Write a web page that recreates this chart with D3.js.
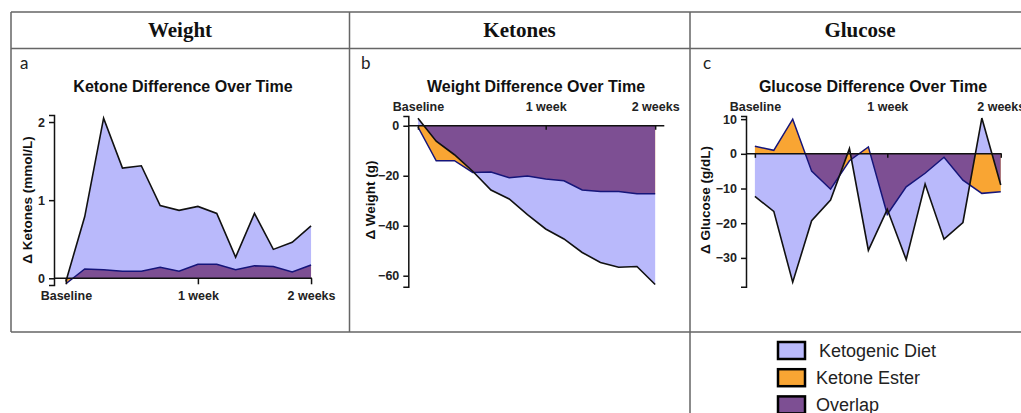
<!DOCTYPE html>
<html>
<head>
<meta charset="utf-8">
<script src="https://cdn.jsdelivr.net/npm/d3@7"></script>
<style>
  body { margin: 0; background: #fff; }
  svg { display: block; }
  text { font-family: "Liberation Sans", Arial, sans-serif; }
</style>
</head>
<body>
<div id="chart"></div>
<script>
// time points (measurement index), ticks shown at baseline / 1 week / 2 weeks
const days = [0, 1, 2, 3, 4, 5, 6, 7, 8, 9, 10, 11, 12, 13];
const tickDays = [0, 7, 13];
const tickLabels = ["Baseline", "1 week", "2 weeks"];

// Δ ketones (mmol/L)
const ketoneKD = [-0.04, 0.79, 2.05, 1.41, 1.44, 0.93, 0.87, 0.92, 0.83, 0.27, 0.83, 0.37, 0.46, 0.67];
const ketoneKE = [-0.07, 0.12, 0.11, 0.09, 0.09, 0.14, 0.09, 0.18, 0.18, 0.11, 0.16, 0.15, 0.08, 0.17];

// Δ weight (g)
const weightKD = [3, -6.2, -11.6, -18.2, -25.7, -29.3, -35.6, -41.3, -45.3, -50.7, -54.7, -56.6, -56.3, -63.5];
const weightKE = [-0.5, -14, -14, -18.7, -18.5, -20.8, -20.1, -21.3, -22, -25.7, -26.3, -26.3, -27.2, -27.2];

// Δ glucose (g/dL)
const glucoseKD = [-12.3, -16.6, -37, -19.3, -13.3, 1.5, -27.8, -16, -30.5, -8.7, -24.6, -19.8, 10.3, -9];
const glucoseKE = [2.2, 1, 10, -5, -10.2, -2, 2, -17.5, -9.5, -5.6, -1, -7.6, -11.4, -10.9];

const headers = ["Weight", "Ketones", "Glucose"];
const legendLabels = ["Ketogenic Diet", "Ketone Ester", "Overlap"];
const legendColors = ["#b9b9fb", "#f9a533", "#7d4f93"];

const colKD = legendColors[0], colKE = legendColors[1], colOv = legendColors[2];

const svg = d3.select('#chart')
  .append('svg')
  .attr('width', 1021)
  .attr('height', 413);

// table grid
svg.append('path')
  .attr('d', 'M11,12H1021 M11,48.5H1021 M11,332H1021 M11,12V332 M349.5,12V332 M690,12V413')
  .attr('fill', 'none')
  .attr('stroke', '#666')
  .attr('stroke-width', 1.5);

svg.selectAll('.hdr')
  .data(headers)
  .join('text')
  .attr('class', 'hdr')
  .attr('x', (d, i) => [180, 519.5, 860][i])
  .attr('y', 30)
  .attr('text-anchor', 'middle')
  .attr('dominant-baseline', 'central')
  .style('font-family', '"Liberation Serif", "Times New Roman", serif')
  .style('font-weight', 'bold')
  .style('font-size', '21px')
  .attr('fill', '#111')
  .text(d => d);

const panels = [
  { id: 'a', kd: ketoneKD, ke: ketoneKE, title: 'Ketone Difference Over Time', ylab: 'Δ Ketones (mmol/L)',
    xd: [-0.63, 13.05], xr: [54, 312], yd: [-0.086, 2.09], yr: [285, 115], yticks: [0, 1, 2],
    top: false, letterX: 20, titleX: 183, ylabX: 27 },
  { id: 'b', kd: weightKD, ke: weightKE, title: 'Weight Difference Over Time', ylab: 'Δ Weight (g)',
    xd: [-0.53, 13.5], xr: [408.3, 664.3], yd: [-64.4, 3.9], yr: [286.7, 116], yticks: [0, -20, -40, -60],
    top: true, letterX: 361, titleX: 536, ylabX: 370 },
  { id: 'c', kd: glucoseKD, ke: glucoseKE, title: 'Glucose Difference Over Time', ylab: 'Δ Glucose (g/dL)',
    xd: [-0.47, 13.05], xr: [746, 1001.7], yd: [-38.3, 10.9], yr: [286.7, 116], yticks: [10, 0, -10, -20, -30],
    top: true, letterX: 703, titleX: 873, ylabX: 705 }
];

panels.forEach(p => {
  const g = svg.append('g');
  const x = d3.scaleLinear().domain(p.xd).range(p.xr);
  const y = d3.scaleLinear().domain(p.yd).range(p.yr);

  const kdArea = d3.area().x((d, i) => x(days[i])).y0(y(0)).y1(d => y(d));
  const line = d3.line().x((d, i) => x(days[i])).y(d => y(d));

  // clip for overlap = ester area inside ketogenic area
  g.append('clipPath').attr('id', 'clip-' + p.id)
    .append('path').attr('d', kdArea(p.kd));

  g.append('path').attr('d', kdArea(p.kd)).attr('fill', colKD);
  g.append('path').attr('d', kdArea(p.ke)).attr('fill', colKE);
  g.append('path').attr('d', kdArea(p.ke)).attr('fill', colOv)
    .attr('clip-path', `url(#clip-${p.id})`);

  g.append('path').attr('d', line(p.ke)).attr('fill', 'none')
    .attr('stroke', '#15157a').attr('stroke-width', 1.5);
  g.append('path').attr('d', line(p.kd)).attr('fill', 'none')
    .attr('stroke', '#111').attr('stroke-width', 1.6);

  // x axis at zero
  const xAxis = (p.top ? d3.axisTop(x) : d3.axisBottom(x))
    .tickValues(tickDays)
    .tickFormat((d, i) => tickLabels[i])
    .tickSizeOuter(0)
    .tickSizeInner(p.top ? -4 : 6)
    .tickPadding(p.top ? 14 : 7);
  const xg = g.append('g')
    .attr('transform', `translate(0,${y(0)})`)
    .call(xAxis);
  xg.select('.domain').attr('d', `M${x(p.xd[0])},0H${x(p.xd[1])}`);
  if (p.top) {
    xg.selectAll('.tick line').attr('y2', 4);
    // labels sit above the plot, not above the zero line
    xg.selectAll('.tick text')
      .attr('y', 106.5 - y(0))
      .attr('dy', null)
      .attr('dominant-baseline', 'central');
  }

  const yg = g.append('g')
    .attr('transform', `translate(${x(p.xd[0])},0)`)
    .call(d3.axisLeft(y).tickValues(p.yticks).tickFormat(d3.format('d'))
      .tickSizeOuter(0).tickSize(5).tickPadding(4));

  [xg, yg].forEach(a => {
    a.select('.domain').attr('stroke', '#111').attr('stroke-width', 1.5);
    a.selectAll('.tick line').attr('stroke', '#111').attr('stroke-width', 1.5);
    a.selectAll('.tick text')
      .style('font-family', '"Liberation Sans", Arial, sans-serif')
      .style('font-size', '12.5px')
      .style('font-weight', 'bold')
      .attr('fill', '#222');
  });

  g.append('text')
    .attr('x', p.titleX).attr('y', 86)
    .attr('text-anchor', 'middle').attr('dominant-baseline', 'central')
    .style('font-size', '16px').style('font-weight', 'bold')
    .attr('fill', '#111')
    .text(p.title);

  g.append('text')
    .attr('x', p.letterX).attr('y', 62)
    .attr('dominant-baseline', 'central')
    .style('font-family', 'Lato, "Open Sans", sans-serif')
    .style('font-size', '17px')
    .attr('fill', '#222')
    .text(p.id);

  g.append('text')
    .attr('transform', `translate(${p.ylabX},200) rotate(-90)`)
    .attr('text-anchor', 'middle').attr('dominant-baseline', 'central')
    .style('font-size', '13.5px').style('font-weight', 'bold')
    .attr('fill', '#111')
    .text(p.ylab);
});

// legend
const leg = svg.append('g');
leg.selectAll('rect')
  .data(legendLabels)
  .join('rect')
  .attr('x', 778)
  .attr('y', (d, i) => 342 + i * 27.2)
  .attr('width', 27)
  .attr('height', 17)
  .attr('fill', (d, i) => legendColors[i])
  .attr('stroke', '#000')
  .attr('stroke-width', 2.5);

leg.selectAll('text')
  .data(legendLabels)
  .join('text')
  .attr('x', (d, i) => i === 0 ? 819 : 816)
  .attr('y', (d, i) => 351 + i * 27.2)
  .attr('dominant-baseline', 'central')
  .style('font-size', '18px')
  .attr('fill', '#222')
  .text(d => d);
</script>
</body>
</html>
